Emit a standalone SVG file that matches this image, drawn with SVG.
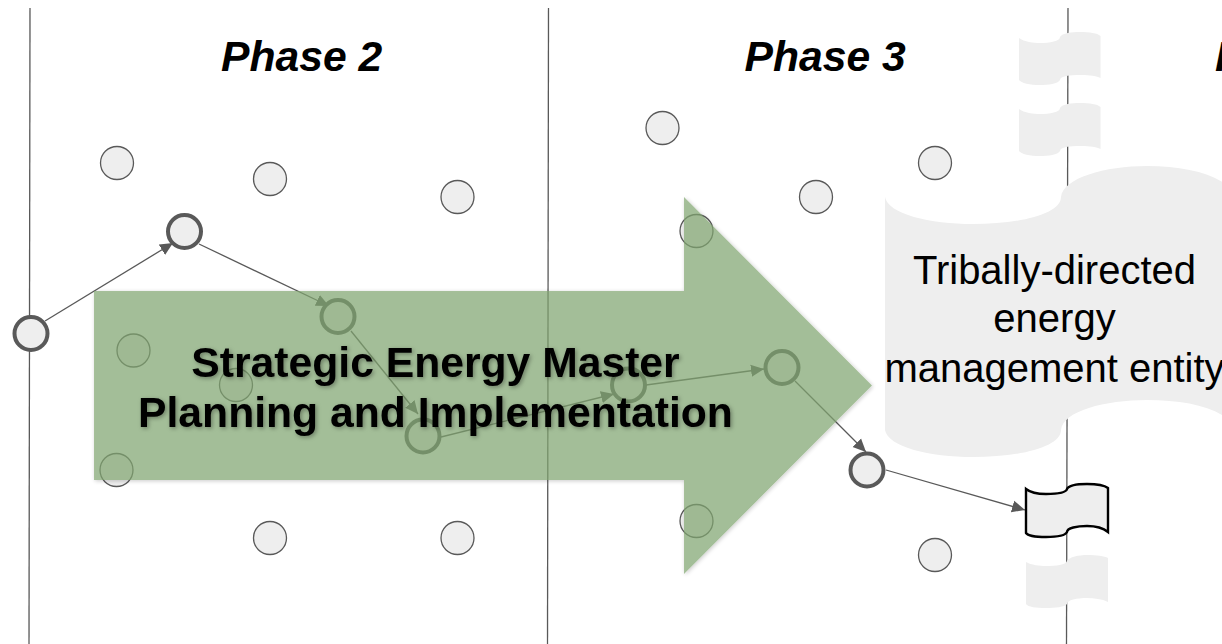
<svg xmlns="http://www.w3.org/2000/svg" width="1222" height="644" viewBox="0 0 1222 644">
<style>
.vl{stroke:#595959;stroke-width:1.3;fill:none}
.c{fill:#eeeeee;stroke:#595959;stroke-width:1.3}
.k{fill:#eeeeee;stroke:#595959;stroke-width:4}
.e{stroke:#595959;stroke-width:1.3;fill:none;marker-end:url(#ah)}
.w{fill:#eeeeee}
text{font-family:"Liberation Sans",Arial,sans-serif;fill:#000}
.ph{font-size:42.67px;font-weight:bold;font-style:italic}
.lb{font-size:40px;text-anchor:middle}
.st{font-size:42.67px;font-weight:bold;text-anchor:middle}
</style>
<defs>
<marker id="ah" markerUnits="userSpaceOnUse" markerWidth="14" markerHeight="13" refX="13" refY="6.5" orient="auto"><path d="M0,0.5 L13,6.5 L0,12.5 Z" fill="#595959"/></marker>
<filter id="sh" x="-5%" y="-5%" width="110%" height="110%">
<feGaussianBlur in="SourceAlpha" stdDeviation="2" result="b"/>
<feOffset in="b" dx="1" dy="1" result="o"/>
<feComposite in="o" in2="SourceAlpha" operator="out" result="r"/>
<feComponentTransfer in="r" result="s"><feFuncA type="linear" slope=".3"/></feComponentTransfer>
<feMerge><feMergeNode in="s"/><feMergeNode in="SourceGraphic"/></feMerge>
</filter>
<filter id="ts" x="-5%" y="-15%" width="110%" height="130%"><feDropShadow dx="1.5" dy="1.5" stdDeviation="2" flood-color="#000" flood-opacity=".35"/></filter>
</defs>

<g id="phase-lines">
<path class="vl" d="M30,8 L29,644"/>
<path class="vl" d="M548.5,8 L547.5,644"/>
<path class="vl" d="M1068,8 L1066.5,644"/>
</g>

<g id="entity-flags">
<path id="flag-top-1" class="w" d="M1019,38 C1024,42 1034,43 1040,43 C1050,43 1060,41 1060,37 C1062,33 1072,32 1080,32 C1090,32 1097,33 1100.5,36 V78 C1094,75 1086,75 1080,75 C1070,75 1060,76 1060,80 C1058,84 1048,85 1040,85 C1030,85 1021,83 1019,80 Z"/>
<path id="flag-top-2" class="w" d="M1019,109 C1024,113 1034,114 1040,114 C1050,114 1060,112 1060,108 C1062,104 1072,103 1080,103 C1090,103 1097,104 1100.5,107 V149 C1094,146 1086,146 1080,146 C1070,146 1060,147 1060,151 C1058,155 1048,156 1040,156 C1030,156 1021,154 1019,151 Z"/>
<path id="flag-main" class="w" d="M885,197 C888,214 930,224 973,224 C1020,224 1061,214 1061,197 C1063,178 1105,166 1147,166 C1190,166 1225,176 1238,197 V430 C1225,409 1190,400 1147,400 C1105,400 1063,411 1061,430 C1061,447 1020,457 973,457 C930,457 888,447 885,430 Z"/>
<path id="flag-bottom" class="w" d="M1026,562 C1031,565 1040,566 1046,566 C1056,566 1066,565 1067,561 C1069,557 1079,555 1087,555 C1097,555 1104,556 1108,558 V602 C1102,599 1094,598 1087,598 C1077,598 1067,600 1067,604 C1065,607 1055,608 1046,608 C1036,608 1028,607 1026,604 Z"/>
</g>

<g id="connectors">
<path class="e" d="M45,321 L173,243"/>
<path class="e" d="M199,244 L329,306"/>
<path class="e" d="M351,331 L418,414"/>
<path class="e" d="M441,437 L614,394"/>
<path class="e" d="M646,385 L764,369"/>
<path class="e" d="M795,381 L866,452"/>
<path class="e" d="M886,470 L1025,510"/>
</g>

<g id="n1"><circle class="c" cx="117" cy="163" r="16.5"/></g>
<g id="n2"><circle class="c" cx="270" cy="179" r="16.5"/></g>
<g id="n3"><circle class="c" cx="457.5" cy="197" r="16.5"/></g>
<g id="n4"><circle class="c" cx="662.5" cy="128" r="16.5"/></g>
<g id="n5"><circle class="c" cx="816" cy="197" r="16.5"/></g>
<g id="n6"><circle class="c" cx="935" cy="163" r="16.5"/></g>
<g id="n7"><circle class="c" cx="696.5" cy="231" r="16.5"/></g>
<g id="n8"><circle class="c" cx="133.5" cy="350.5" r="16.5"/></g>
<g id="n9"><circle class="c" cx="236" cy="385" r="16.5"/></g>
<g id="n10"><circle class="c" cx="116.5" cy="470" r="16.5"/></g>
<g id="n11"><circle class="c" cx="270" cy="538" r="16.5"/></g>
<g id="n12"><circle class="c" cx="457.5" cy="538" r="16.5"/></g>
<g id="n13"><circle class="c" cx="696.5" cy="521" r="16.5"/></g>
<g id="n14"><circle class="c" cx="935" cy="555" r="16.5"/></g>

<g id="p1"><circle class="k" cx="31" cy="333.5" r="16.5"/></g>
<g id="p2"><circle class="k" cx="184.5" cy="231.5" r="16.5"/></g>
<g id="p3"><circle class="k" cx="338" cy="316.5" r="16.5"/></g>
<g id="p4"><circle class="k" cx="423" cy="436" r="16.5"/></g>
<g id="p5"><circle class="k" cx="628.5" cy="385" r="16.5"/></g>
<g id="p6"><circle class="k" cx="782" cy="367.5" r="16.5"/></g>
<g id="p7"><circle class="k" cx="867" cy="470" r="16.5"/></g>

<g id="end-flag"><path fill="#eeeeee" stroke="#000" stroke-width="2.4" d="M1026,489 C1031,493 1040,494 1046,494 C1056,494 1066,493 1067,489 C1069,485 1079,484 1087,484 C1097,484 1104,485 1108,488 V532 C1102,527 1094,526 1087,526 C1077,526 1067,528 1067,532 C1065,536 1055,537 1046,537 C1036,537 1028,536 1026,533 Z"/></g>

<g id="main-arrow"><path fill="#80a56f" fill-opacity=".7" filter="url(#sh)" d="M94,291 H684 V197 L872,385.5 L684,574 V480 H94 Z"/></g>

<g id="labels">
<text class="ph" x="221" y="71">Phase 2</text>
<text class="ph" x="744.5" y="71">Phase 3</text>
<text class="ph" x="1215" y="71">P</text>
<text class="lb" x="1054.5" y="284">Tribally-directed</text>
<text class="lb" x="1054.5" y="332">energy</text>
<text class="lb" x="1054.5" y="381.5">management entity</text>
<text class="st" x="435.5" y="376.5" filter="url(#ts)">Strategic Energy Master</text>
<text class="st" x="435.5" y="427" filter="url(#ts)">Planning and Implementation</text>
</g>
</svg>
